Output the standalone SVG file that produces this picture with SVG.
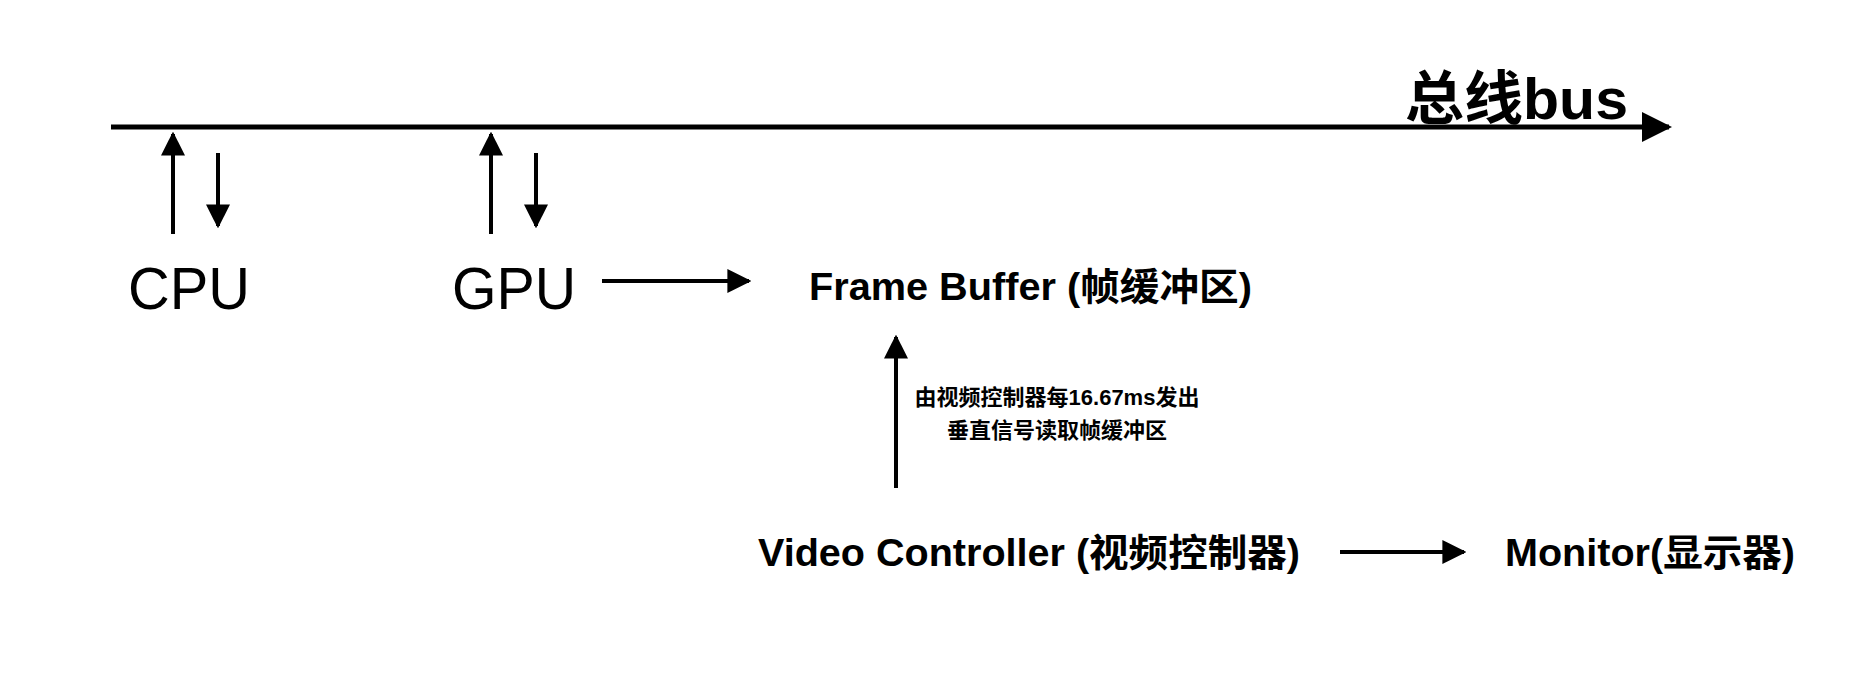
<svg xmlns="http://www.w3.org/2000/svg" width="1866" height="690" viewBox="0 0 1866 690">
<style>
text{font-family:"Liberation Sans","Noto Sans CJK SC",sans-serif;fill:#000}
.b{font-weight:bold}
.ln{stroke:#000;stroke-width:4;fill:none}
</style>
<defs>
<marker id="ah" viewBox="0 0 10 10" refX="9" refY="5" markerWidth="6" markerHeight="6" markerUnits="strokeWidth" orient="auto"><path d="M0,0L10,5L0,10z" fill="#000"/></marker>
</defs>
<rect width="1866" height="690" fill="#fff"/>
<g id="connectors">
<line x1="111" y1="127" x2="1669" y2="127" stroke="#000" stroke-width="5" marker-end="url(#ah)"/>
<line class="ln" x1="173" y1="234" x2="173" y2="134" marker-end="url(#ah)"/>
<line class="ln" x1="218" y1="153" x2="218" y2="226" marker-end="url(#ah)"/>
<line class="ln" x1="491" y1="234" x2="491" y2="134" marker-end="url(#ah)"/>
<line class="ln" x1="536" y1="153" x2="536" y2="226" marker-end="url(#ah)"/>
<line class="ln" x1="602" y1="281" x2="749" y2="281" marker-end="url(#ah)"/>
<line class="ln" x1="896" y1="488" x2="896" y2="337" marker-end="url(#ah)"/>
<line class="ln" x1="1340" y1="552" x2="1464" y2="552" marker-end="url(#ah)"/>
</g>
<g id="bus"><text class="b" x="1405" y="119" font-size="58" textLength="223" lengthAdjust="spacingAndGlyphs">总线bus</text></g>
<g id="cpu"><text x="128" y="309" font-size="60" textLength="122" lengthAdjust="spacingAndGlyphs">CPU</text></g>
<g id="gpu"><text x="452" y="309" font-size="60" textLength="124" lengthAdjust="spacingAndGlyphs">GPU</text></g>
<g id="framebuffer"><text class="b" x="809" y="300" font-size="38" textLength="443" lengthAdjust="spacingAndGlyphs">Frame Buffer (帧缓冲区)</text></g>
<g id="label"><text class="b" font-size="22" text-anchor="middle"><tspan x="1057" y="405">由视频控制器每16.67ms发出</tspan><tspan x="1057" y="438">垂直信号读取帧缓冲区</tspan></text></g>
<g id="videocontroller"><text class="b" x="758" y="566" font-size="38" textLength="542" lengthAdjust="spacingAndGlyphs">Video Controller (视频控制器)</text></g>
<g id="monitor"><text class="b" x="1505" y="566" font-size="38" textLength="290" lengthAdjust="spacingAndGlyphs">Monitor(显示器)</text></g>
</svg>
